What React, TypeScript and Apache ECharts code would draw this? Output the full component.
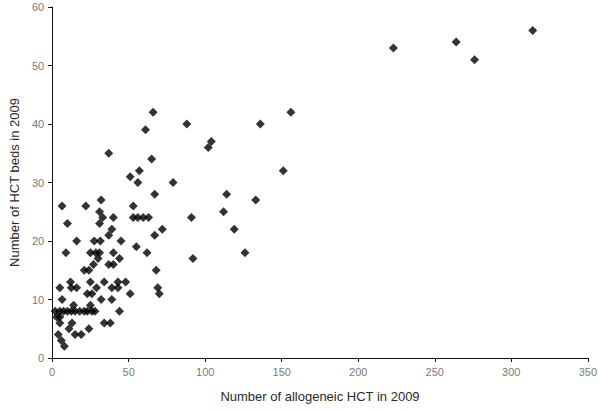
import React, { useEffect, useRef } from "react";
import * as echarts from "echarts";

// Number of allogeneic HCT in 2009 (x) vs number of HCT beds in 2009 (y)
const allogeneicHCT: number[] = [
  314, 264, 223, 276,
  66, 156, 88, 136, 61, 104, 102, 37, 65, 57, 151, 51, 56, 79, 67, 114, 32, 133,
  6.5, 22, 53, 31, 112,
  33, 40, 53, 56, 59.5, 63, 91,
  10, 31, 39, 72, 119, 37, 67,
  16, 27.5, 31.5, 45, 55,
  9, 25, 28.5, 31, 40, 62, 126,
  30, 44, 92, 27, 37, 40, 21, 24, 68,
  12, 25, 34, 43, 48,
  5, 12.5, 16, 29, 39, 43, 69,
  23, 26, 51, 70,
  6.5, 32, 39, 14, 25,
  2, 5, 7.5, 10, 12.5, 15, 18, 21, 23, 26, 28, 44,
  3, 5, 5, 13, 34, 38, 11, 24, 4, 15, 19, 6, 8,
];
const hctBeds: number[] = [
  56, 54, 53, 51,
  42, 42, 40, 40, 39, 37, 36, 35, 34, 32, 32, 31, 30, 30, 28, 28, 27, 27,
  26, 26, 26, 25, 25,
  24, 24, 24, 24, 24, 24, 24,
  23, 23, 22, 22, 22, 21, 21,
  20, 20, 20, 20, 19,
  18, 18, 18, 18, 18, 18, 18,
  17, 17, 17, 16, 16, 16, 15, 15, 15,
  13, 13, 13, 13, 13,
  12, 12, 12, 12, 12, 12, 12,
  11, 11, 11, 11,
  10, 10, 10, 9, 9,
  8, 8, 8, 8, 8, 8, 8, 8, 8, 8, 8, 8,
  7, 7, 6, 6, 6, 6, 5, 5, 4, 4, 4, 3, 2,
];

const xTitle = "Number of allogeneic HCT in 2009";
const yTitle = "Number of HCT beds in 2009";

export default function App() {
  const ref = useRef<HTMLDivElement>(null);
  useEffect(() => {
    if (!ref.current) return;
    const chart = echarts.init(ref.current, undefined, { renderer: "svg" });
    const points = allogeneicHCT.map((x, i) => [x, hctBeds[i]]);
    const font = "'Liberation Sans', Arial, sans-serif";
    chart.setOption({
      animation: false,
      backgroundColor: "#ffffff",
      grid: { left: 48, right: 12, top: 7, bottom: 52, containLabel: false },
      xAxis: {
        type: "value",
        min: 0,
        max: 350,
        interval: 50,
        name: xTitle,
        nameLocation: "middle",
        nameGap: 32,
        nameTextStyle: { color: "#2a2a2a", fontSize: 13, fontFamily: font },
        axisLine: { lineStyle: { color: "#111111", width: 1 } },
        axisTick: { show: true, length: 4, lineStyle: { color: "#111111" } },
        axisLabel: { color: "#7a7a7a", fontSize: 11, fontFamily: font, margin: 8 },
        splitLine: { show: false },
      },
      yAxis: {
        type: "value",
        min: 0,
        max: 60,
        interval: 10,
        name: yTitle,
        nameLocation: "middle",
        nameGap: 27,
        nameTextStyle: { color: "#2a2a2a", fontSize: 13, fontFamily: font },
        axisLine: { show: true, lineStyle: { color: "#111111", width: 1 } },
        axisTick: { show: true, length: 4, lineStyle: { color: "#111111" } },
        axisLabel: { color: "#7a7a7a", fontSize: 11, fontFamily: font, margin: 8 },
        splitLine: { show: false },
      },
      series: [
        {
          type: "scatter",
          data: points,
          symbol: "diamond",
          symbolSize: 9,
          itemStyle: { color: "#000000" },
        },
      ],
    });
    return () => chart.dispose();
  }, []);
  return (
    <div
      ref={ref}
      style={{ position: "fixed", left: 0, top: 0, width: 600, height: 410 }}
    />
  );
}
